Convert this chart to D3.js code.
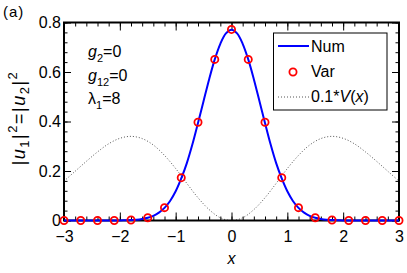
<!DOCTYPE html>
<html>
<head>
<meta charset="utf-8">
<script src="https://cdn.jsdelivr.net/npm/d3@7"></script>
<style>
  body { margin: 0; background: #fff; }
  svg text { font-family: "Liberation Sans", Arial, sans-serif; }
</style>
</head>
<body>
<svg width="407" height="273"></svg>
<script>
// numerical solution |u1|^2 (solid blue line)
const numX = [-3.0, -2.9, -2.8, -2.7, -2.6, -2.5, -2.4, -2.3, -2.2, -2.1, -2.0, -1.9, -1.8, -1.7, -1.6, -1.5,
  -1.4, -1.3, -1.2, -1.1, -1.0, -0.9, -0.8, -0.7, -0.6, -0.5, -0.4, -0.3, -0.2, -0.1, 0.0,
  0.1, 0.2, 0.3, 0.4, 0.5, 0.6, 0.7, 0.8, 0.9, 1.0, 1.1, 1.2, 1.3, 1.4, 1.5,
  1.6, 1.7, 1.8, 1.9, 2.0, 2.1, 2.2, 2.3, 2.4, 2.5, 2.6, 2.7, 2.8, 2.9, 3.0];
const numY = [0, 0, 0, 0, 0, 0, 0, 0, 0, 0, 0, 0.001, 0.002, 0.003, 0.006, 0.011,
  0.019, 0.032, 0.051, 0.079, 0.118, 0.170, 0.232, 0.308, 0.394, 0.483, 0.571, 0.651, 0.714, 0.756, 0.771,
  0.756, 0.714, 0.651, 0.571, 0.483, 0.394, 0.308, 0.232, 0.170, 0.118, 0.079, 0.051, 0.032, 0.019, 0.011,
  0.006, 0.003, 0.002, 0.001, 0, 0, 0, 0, 0, 0, 0, 0, 0, 0, 0];

// variational solution (red circles)
const varX = [-3.0, -2.7, -2.4, -2.1, -1.8, -1.5, -1.2, -0.9, -0.6, -0.3, 0.0, 0.3, 0.6, 0.9, 1.2, 1.5, 1.8, 2.1, 2.4, 2.7, 3.0];
const varY = [0, 0, 0, 0, 0.002, 0.011, 0.052, 0.173, 0.397, 0.651, 0.772, 0.651, 0.397, 0.173, 0.052, 0.011, 0.002, 0, 0, 0, 0];

// 0.1*V(x) (dotted)
const potX = [-3.0, -2.8, -2.6, -2.4, -2.2, -2.0, -1.8, -1.6, -1.4, -1.2, -1.0, -0.8, -0.6, -0.4, -0.2, 0.0,
  0.2, 0.4, 0.6, 0.8, 1.0, 1.2, 1.4, 1.6, 1.8, 2.0, 2.2, 2.4, 2.6, 2.8, 3.0];
const potY = [0.159, 0.199, 0.239, 0.277, 0.310, 0.332, 0.340, 0.331, 0.305, 0.263, 0.210, 0.150, 0.092, 0.044, 0.011, 0,
  0.011, 0.044, 0.092, 0.150, 0.210, 0.263, 0.305, 0.331, 0.340, 0.332, 0.310, 0.277, 0.239, 0.199, 0.159];

const xTicks = [-3, -2, -1, 0, 1, 2, 3];
const xTickLabels = ["\u22123", "\u22122", "\u22121", "0", "1", "2", "3"];
const yTicks = [0, 0.2, 0.4, 0.6, 0.8];
const yTickLabels = ["0", "0.2", "0.4", "0.6", "0.8"];
const legendLabels = ["Num", "Var", "0.1*"];

const svg = d3.select("svg"),
    margin = { top: 22.5, right: 8, bottom: 52.5, left: 64 },
    width = +svg.attr("width") - margin.left - margin.right,
    height = +svg.attr("height") - margin.top - margin.bottom;

const chart = svg.append("g")
    .attr("transform", `translate(${margin.left},${margin.top})`);

const x = d3.scaleLinear().domain([-3, 3]).range([0, width]);
const y = d3.scaleLinear().domain([0, 0.8]).range([height, 0]);

const xMinor = d3.range(-30, 31, 2).map(d => d / 10);
const yMinor = d3.range(0, 21).map(d => d * 0.04);

function styleAxis(g) {
    g.select(".domain").remove();
    g.selectAll("line").attr("stroke", "#000").attr("stroke-width", 1);
    g.selectAll("text").attr("fill", "#000").style("font-size", "16px");
}

// minor ticks
chart.append("g").attr("transform", `translate(0,${height})`)
    .call(d3.axisBottom(x).tickValues(xMinor).tickSize(-4).tickFormat("")).call(styleAxis);
chart.append("g")
    .call(d3.axisTop(x).tickValues(xMinor).tickSize(-4).tickFormat("")).call(styleAxis);
chart.append("g")
    .call(d3.axisLeft(y).tickValues(yMinor).tickSize(-3.5).tickFormat("")).call(styleAxis);
chart.append("g").attr("transform", `translate(${width},0)`)
    .call(d3.axisRight(y).tickValues(yMinor).tickSize(-3.5).tickFormat("")).call(styleAxis);

// major ticks + labels
chart.append("g").attr("transform", `translate(0,${height})`)
    .call(d3.axisBottom(x).tickValues(xTicks).tickSize(-8).tickPadding(10)
        .tickFormat((d, i) => xTickLabels[i])).call(styleAxis);
chart.append("g")
    .call(d3.axisTop(x).tickValues(xTicks).tickSize(-8).tickFormat("")).call(styleAxis);
chart.append("g")
    .call(d3.axisLeft(y).tickValues(yTicks).tickSize(-7).tickPadding(3)
        .tickFormat((d, i) => yTickLabels[i])).call(styleAxis);
chart.append("g").attr("transform", `translate(${width},0)`)
    .call(d3.axisRight(y).tickValues(yTicks).tickSize(-7).tickFormat("")).call(styleAxis);

// potential, dotted
const potLine = d3.line().x((d, i) => x(potX[i])).y(d => y(d)).curve(d3.curveCatmullRom);
chart.append("path")
    .attr("d", potLine(potY))
    .attr("fill", "none")
    .attr("stroke", "#555")
    .attr("stroke-width", 1)
    .attr("stroke-dasharray", "1,2");

// box
chart.append("rect")
    .attr("width", width).attr("height", height)
    .attr("fill", "none").attr("stroke", "#000").attr("stroke-width", 2);

// numerical line
const numLine = d3.line().x((d, i) => x(numX[i])).y(d => y(d)).curve(d3.curveCatmullRom);
chart.append("path")
    .attr("d", numLine(numY))
    .attr("fill", "none")
    .attr("stroke", "#0000ff")
    .attr("stroke-width", 2);

// variational markers
chart.selectAll(".var")
    .data(varY)
    .enter()
    .append("circle")
    .attr("class", "var")
    .attr("cx", (d, i) => x(varX[i]))
    .attr("cy", d => y(d))
    .attr("r", 3.6)
    .attr("fill", "none")
    .attr("stroke", "#ff0000")
    .attr("stroke-width", 1.8);

// axis label x
svg.append("text")
    .attr("x", margin.left + width / 2)
    .attr("y", 264)
    .attr("text-anchor", "middle")
    .style("font-size", "16px")
    .style("font-style", "italic")
    .text("x");

// y label |u1|^2=|u2|^2
const yl = svg.append("text")
    .attr("transform", `translate(25,118) rotate(-90)`)
    .attr("text-anchor", "middle")
    .style("font-size", "18px")
    .style("letter-spacing", "1.5px");
yl.append("tspan").text("|");
yl.append("tspan").style("font-style", "italic").text("u");
yl.append("tspan").attr("dy", 4).style("font-size", "13px").text("1");
yl.append("tspan").attr("dy", -4).text("|");
yl.append("tspan").attr("dy", -8).style("font-size", "13px").text("2");
yl.append("tspan").attr("dy", 8).text("=|");
yl.append("tspan").style("font-style", "italic").text("u");
yl.append("tspan").attr("dy", 4).style("font-size", "13px").text("2");
yl.append("tspan").attr("dy", -4).text("|");
yl.append("tspan").attr("dy", -8).style("font-size", "13px").text("2");

// panel label
svg.append("text").attr("x", 3).attr("y", 17).style("font-size", "15px")
    .style("letter-spacing", "1px").text("(a)");

// parameter annotations
const ann = [["g", "2", "=0", 57], ["g", "12", "=0", 81], ["\u03bb", "1", "=8", 104]];
ann.forEach(a => {
    const t = svg.append("text").attr("x", 88).attr("y", a[3]).style("font-size", "16px");
    t.append("tspan").style("font-style", a[0] === "g" ? "italic" : "normal").text(a[0]);
    t.append("tspan").attr("dy", 5).style("font-size", "11px").text(a[1]);
    t.append("tspan").attr("dy", -5).text(a[2]);
});

// legend
const lg = svg.append("g");
lg.append("rect")
    .attr("x", 273.5).attr("y", 33).attr("width", 113.5).attr("height", 77)
    .attr("fill", "#fff").attr("stroke", "#000").attr("stroke-width", 1);
lg.append("line").attr("x1", 278).attr("x2", 309).attr("y1", 46).attr("y2", 46)
    .attr("stroke", "#0000ff").attr("stroke-width", 2);
lg.append("circle").attr("cx", 293).attr("cy", 72).attr("r", 3.6)
    .attr("fill", "none").attr("stroke", "#ff0000").attr("stroke-width", 1.8);
lg.append("line").attr("x1", 278).attr("x2", 309).attr("y1", 97).attr("y2", 97)
    .attr("stroke", "#555").attr("stroke-width", 1).attr("stroke-dasharray", "1,2");
lg.append("text").attr("x", 311).attr("y", 52).style("font-size", "16px").text(legendLabels[0]);
lg.append("text").attr("x", 311).attr("y", 77).style("font-size", "16px").text(legendLabels[1]);
const vt = lg.append("text").attr("x", 311).attr("y", 102).style("font-size", "16px");
vt.append("tspan").text(legendLabels[2]);
vt.append("tspan").style("font-style", "italic").text("V");
vt.append("tspan").text("(");
vt.append("tspan").style("font-style", "italic").text("x");
vt.append("tspan").text(")");
</script>
</body>
</html>
